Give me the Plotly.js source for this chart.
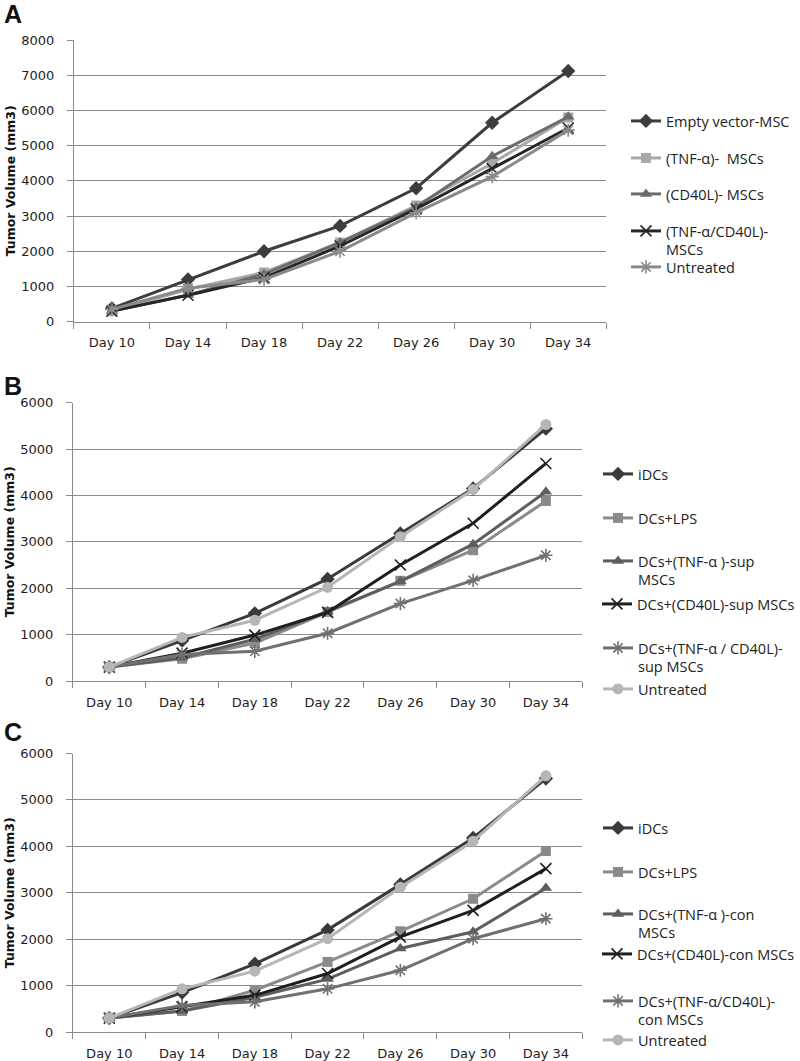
<!DOCTYPE html>
<html>
<head>
<meta charset="utf-8">
<script src="https://cdn.plot.ly/plotly-3.0.1.min.js"></script>
<style>html,body{margin:0;padding:0;background:#fff;}#chart{width:800px;height:1061px;}</style>
</head>
<body>
<div id="chart"></div>
<script>
// ---------- DATA ----------
const days = ["Day 10", "Day 14", "Day 18", "Day 22", "Day 26", "Day 30", "Day 34"];

// Panel A
const namesA = ["Empty vector-MSC", "(TNF-α)-  MSCs", "(CD40L)- MSCs", "(TNF-α/CD40L)-<br>MSCs", "Untreated"];
const emptyVectorA = [380, 1200, 2000, 2720, 3790, 5650, 7120];
const tnfA        = [300, 920, 1400, 2250, 3300, 4500, 5800];
const cd40lA      = [300, 760, 1350, 2250, 3250, 4700, 5820];
const tnfCd40lA   = [300, 750, 1250, 2150, 3200, 4350, 5500];
const untreatedA  = [350, 950, 1200, 2000, 3100, 4120, 5440];

// Panel B
const namesB = ["iDCs", "DCs+LPS", "DCs+(TNF-α )-sup<br>MSCs", "DCs+(CD40L)-sup MSCs", "DCs+(TNF-α / CD40L)-<br>sup MSCs", "Untreated"];
const iDCsB       = [300, 870, 1460, 2200, 3180, 4150, 5440];
const lpsB        = [300, 480, 820, 1490, 2160, 2820, 3880];
const tnfSupB     = [300, 500, 900, 1500, 2150, 2950, 4080];
const cd40lSupB   = [300, 600, 990, 1480, 2500, 3400, 4690];
const tnfCdSupB   = [300, 570, 640, 1030, 1670, 2170, 2710];
const untreatedB  = [300, 940, 1310, 2020, 3110, 4130, 5530];

// Panel C
const namesC = ["iDCs", "DCs+LPS", "DCs+(TNF-α )-con<br>MSCs", "DCs+(CD40L)-con MSCs", "DCs+(TNF-α/CD40L)-<br>con MSCs", "Untreated"];
const iDCsC       = [300, 850, 1470, 2200, 3180, 4180, 5460];
const lpsC        = [300, 450, 900, 1510, 2170, 2870, 3900];
const tnfConC     = [300, 450, 750, 1140, 1800, 2160, 3100];
const cd40lConC   = [300, 540, 790, 1260, 2050, 2620, 3520];
const tnfCdConC   = [300, 570, 650, 930, 1330, 2010, 2440];
const untreatedC  = [300, 930, 1310, 2010, 3120, 4110, 5520];

const yTitle = "Tumor Volume (mm3)";
const panelLetters = ["A", "B", "C"];

// ---------- STYLES ----------
const stA = [
  {c: "#3d3d3d", s: "diamond", z: 11},
  {c: "#a8a8a8", s: "square", z: 10},
  {c: "#6c6c6c", s: "triangle-up", z: 11},
  {c: "#262626", s: "x-thin", z: 11},
  {c: "#8a8a8a", s: "asterisk", z: 11}
];
const stBC = [
  {c: "#3a3a3a", s: "diamond", z: 11},
  {c: "#8a8a8a", s: "square", z: 10},
  {c: "#5e5e5e", s: "triangle-up", z: 11},
  {c: "#1f1f1f", s: "x-thin", z: 11},
  {c: "#707070", s: "asterisk", z: 11},
  {c: "#b6b6b6", s: "circle", z: 11}
];

const panels = [
  {names: namesA, series: [emptyVectorA, tnfA, cd40lA, tnfCd40lA, untreatedA], st: stA, ax: ""},
  {names: namesB, series: [iDCsB, lpsB, tnfSupB, cd40lSupB, tnfCdSupB, untreatedB], st: stBC, ax: "2"},
  {names: namesC, series: [iDCsC, lpsC, tnfConC, cd40lConC, tnfCdConC, untreatedC], st: stBC, ax: "3"}
];

// legend first-line centre (px) and left (px) per panel
const legendRowsPx = [[120, 157, 193, 230, 266], [473, 517, 560, 603, 647, 688], [827, 871, 913, 953, 1000, 1039]];
const legendLeftPx = [626, 598, 598];

const W = 800, H = 1061;
const traces = [];
const layout = {
  width: W, height: H,
  margin: {l: 0, r: 0, t: 0, b: 0},
  paper_bgcolor: "#ffffff", plot_bgcolor: "#ffffff",
  showlegend: true,
  annotations: [],
  font: {family: "DejaVu Sans", color: "#222"}
};

let li = 0;
panels.forEach((p, pi) => {
  p.series.forEach((vals, si) => {
    const st = p.st[si];
    const isLineSym = (st.s === "x-thin" || st.s === "asterisk");
    const legId = li === 0 ? "legend" : "legend" + (li + 1);
    traces.push({
      type: "scatter", mode: "lines+markers",
      x: days, y: vals, name: p.names[si],
      xaxis: "x" + p.ax, yaxis: "y" + p.ax,
      legend: legId,
      line: {color: st.c, width: 3},
      marker: {symbol: st.s, size: st.z, color: st.c,
               line: {color: st.c, width: isLineSym ? 1.6 : 0}},
      hoverinfo: "x+y+name"
    });
    const yPx = legendRowsPx[pi][si];
    layout[legId] = {
      x: legendLeftPx[pi] / W, xanchor: "left",
      y: 1 - (yPx - 15) / H, yanchor: "top",
      bgcolor: "rgba(0,0,0,0)", borderwidth: 0,
      valign: "top",
      font: {family: "Open Sans", size: 14.5, color: "#222"}
    };
    li++;
  });
});

// axes domains in px
const axPx = [
  {x0: 74, x1: 607, y0: 321.7, y1: 40, ymax: 8000},
  {x0: 73, x1: 583, y0: 681, y1: 402.7, ymax: 6000},
  {x0: 73, x1: 583, y0: 1032, y1: 753.5, ymax: 6000}
];
const letterPx = [[13, 14], [13, 386], [13, 732]];

axPx.forEach((a, i) => {
  const sfx = i === 0 ? "" : String(i + 1);
  layout["xaxis" + sfx] = {
    domain: [a.x0 / W, a.x1 / W], anchor: "y" + sfx,
    type: "category", range: [-0.5, 6.5],
    showgrid: false, showline: true, linecolor: "#8a8a8a", linewidth: 1,
    ticks: "outside", tickson: "boundaries", ticklen: 6, tickcolor: "#8a8a8a",
    ticklabelstandoff: 9,
    tickfont: {family: "DejaVu Sans", size: 13, color: "#1e1e1e"},
    zeroline: false, fixedrange: true
  };
  layout["yaxis" + sfx] = {
    domain: [1 - a.y0 / H, 1 - a.y1 / H], anchor: "x" + sfx,
    range: [0, a.ymax], dtick: 1000, tick0: 0,
    showgrid: true, gridcolor: "#8a8a8a", gridwidth: 1,
    showline: true, linecolor: "#8a8a8a", linewidth: 1,
    ticks: "outside", ticklen: 6, tickcolor: "#8a8a8a",
    ticklabelstandoff: 10,
    tickfont: {family: "DejaVu Sans", size: 13, color: "#1e1e1e"},
    zeroline: false, fixedrange: true,
    title: {text: yTitle, standoff: 2, font: {family: "DejaVu Sans", size: 12.5, color: "#111", weight: "bold"}}
  };
  layout.annotations.push({
    text: "<b>" + panelLetters[i] + "</b>", xref: "paper", yref: "paper",
    x: letterPx[i][0] / W, y: 1 - letterPx[i][1] / H,
    xanchor: "center", yanchor: "middle", showarrow: false,
    font: {family: "Liberation Sans", size: 25, color: "#111"}
  });
});

Plotly.newPlot("chart", traces, layout, {staticPlot: true, displayModeBar: false});
</script>
</body>
</html>
